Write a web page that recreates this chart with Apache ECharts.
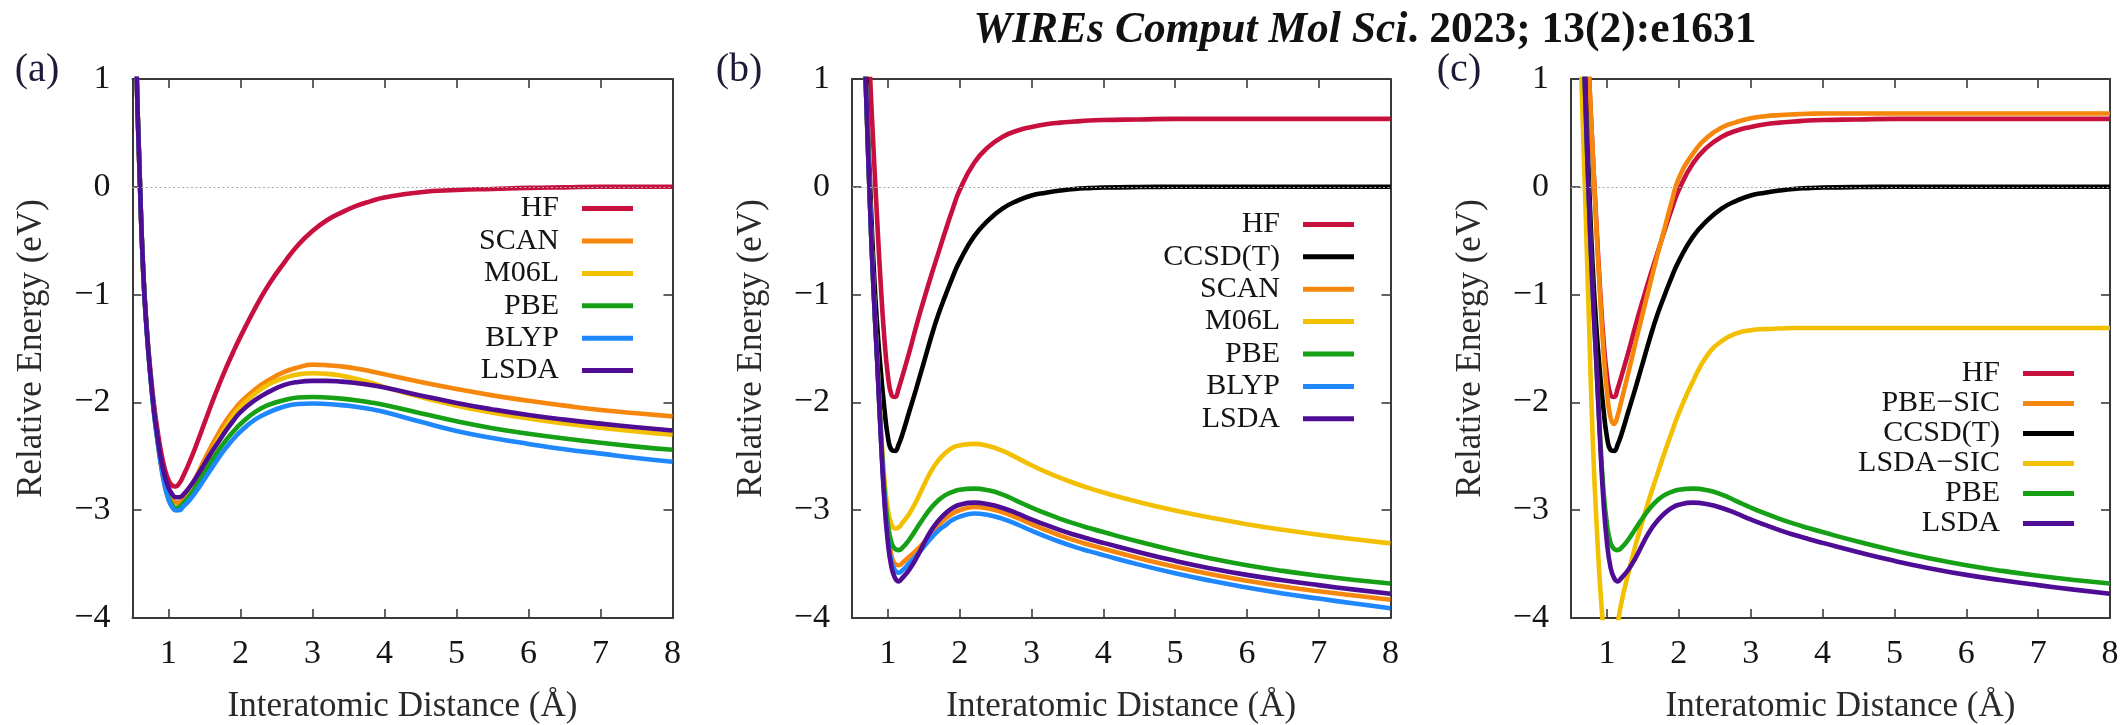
<!DOCTYPE html>
<html>
<head>
<meta charset="utf-8">
<title>Potential energy curves</title>
<script src="https://cdn.jsdelivr.net/npm/echarts/dist/echarts.min.js"></script>
<style>
  html, body { margin: 0; padding: 0; background: #ffffff; }
  #chart { width: 2123px; height: 725px; }
</style>
</head>
<body>
<div id="chart"></div>
<script>
// ---------------------------------------------------------------------------
// Data: relative energy (eV) versus interatomic distance (Å)
// ---------------------------------------------------------------------------
const DIST = [
  0.5, 0.55, 0.6, 0.65, 0.7, 0.75, 0.8, 0.85, 0.9, 0.95, 1.0, 1.05, 1.1, 1.15, 1.2,
  1.3, 1.4, 1.5, 1.6, 1.7, 1.8, 1.9, 2.0,
  2.2, 2.4, 2.6, 2.8, 3.0, 3.2, 3.4, 3.6, 3.8, 4.0,
  4.5, 5.0, 5.5, 6.0, 6.5, 7.0, 7.5, 8.0
];

// panel (a)
const HF_A = [
  3.0, 1.25, 0.1, -0.8, -1.33, -1.72, -2.03, -2.27, -2.47, -2.62, -2.72, -2.77, -2.78, -2.75, -2.69,
  -2.54, -2.37, -2.19, -2.01, -1.84, -1.68, -1.53, -1.39,
  -1.13, -0.90, -0.71, -0.54, -0.41, -0.31, -0.24, -0.18, -0.135, -0.10,
  -0.05, -0.03, -0.02, -0.01, -0.005, 0, 0, 0
];
const SCAN_A = [
  3.0, 1.25, 0.1, -0.8, -1.35, -1.75, -2.08, -2.34, -2.56, -2.73, -2.84, -2.9, -2.93, -2.93, -2.9,
  -2.8, -2.67, -2.53, -2.40, -2.28, -2.17, -2.08, -2.0,
  -1.88, -1.79, -1.72, -1.675, -1.65, -1.655, -1.667, -1.685, -1.71, -1.74,
  -1.81, -1.875, -1.935, -1.985, -2.03, -2.07, -2.10, -2.13
];
const M06L_A = [
  3.0, 1.25, 0.1, -0.8, -1.35, -1.76, -2.1, -2.37, -2.6, -2.78, -2.9, -2.97, -3.0, -2.99, -2.95,
  -2.85, -2.72, -2.58, -2.45, -2.33, -2.22, -2.12, -2.04,
  -1.92, -1.83, -1.775, -1.74, -1.73, -1.735, -1.752, -1.78, -1.815, -1.858,
  -1.95, -2.03, -2.095, -2.15, -2.195, -2.235, -2.27, -2.30
];
const PBE_A = [
  3.0, 1.25, 0.1, -0.8, -1.35, -1.76, -2.1, -2.36, -2.58, -2.76, -2.88, -2.95, -2.98, -2.97, -2.94,
  -2.86, -2.76, -2.65, -2.54, -2.44, -2.35, -2.27, -2.20,
  -2.09, -2.02, -1.98, -1.955, -1.95, -1.955, -1.965, -1.98, -2.0, -2.025,
  -2.10, -2.175, -2.24, -2.29, -2.335, -2.375, -2.41, -2.44
];
const BLYP_A = [
  3.0, 1.25, 0.1, -0.8, -1.36, -1.77, -2.11, -2.37, -2.6, -2.78, -2.9, -2.97, -3.0, -3.0, -2.97,
  -2.9, -2.81, -2.71, -2.61, -2.51, -2.42, -2.34, -2.27,
  -2.16, -2.09, -2.04, -2.015, -2.01, -2.015, -2.025, -2.04, -2.062, -2.09,
  -2.18, -2.265, -2.33, -2.385, -2.435, -2.475, -2.515, -2.55
];
const LSDA_A = [
  3.0, 1.25, 0.1, -0.8, -1.35, -1.75, -2.08, -2.33, -2.54, -2.69, -2.79, -2.85, -2.88, -2.88, -2.86,
  -2.78, -2.68, -2.57, -2.46, -2.36, -2.26, -2.17, -2.09,
  -1.98, -1.90, -1.84, -1.81, -1.80, -1.80, -1.807, -1.82, -1.838, -1.862,
  -1.935, -2.005, -2.065, -2.117, -2.16, -2.197, -2.23, -2.26
];

// panels (b) and (c)
const HF_BC = [
  9.0, 7.0, 5.0, 3.3, 1.9, 1.05, 0.35, -0.3, -0.9, -1.4, -1.75, -1.93, -1.95, -1.87, -1.76,
  -1.53, -1.28, -1.05, -0.83, -0.62, -0.41, -0.21, -0.03,
  0.22, 0.37, 0.465, 0.52, 0.555, 0.58, 0.595, 0.605, 0.615, 0.62,
  0.625, 0.63, 0.63, 0.63, 0.63, 0.63, 0.63, 0.63
];
const CCSDT_BC = [
  8.0, 6.0, 4.2, 2.6, 0.95, 0.05, -0.72, -1.28, -1.7, -2.05, -2.32, -2.44, -2.45, -2.39, -2.3,
  -2.08, -1.86, -1.63, -1.40, -1.19, -1.01, -0.84, -0.69,
  -0.46, -0.31, -0.2, -0.13, -0.08, -0.055, -0.035, -0.02, -0.012, -0.007,
  -0.002, 0, 0, 0, 0, 0, 0, 0
];
const SCAN_B = [
  6.0, 4.5, 3.0, 1.8, 0.8, -0.15, -0.95, -1.6, -2.28, -2.85, -3.22, -3.42, -3.50, -3.51, -3.49,
  -3.43, -3.37, -3.30, -3.22, -3.14, -3.08, -3.03, -3.0,
  -2.97, -2.985, -3.02, -3.072, -3.13, -3.185, -3.235, -3.28, -3.32, -3.357,
  -3.445, -3.525, -3.595, -3.655, -3.707, -3.752, -3.792, -3.83
];
const M06L_B = [
  6.0, 4.5, 3.0, 1.8, 0.8, -0.15, -0.95, -1.58, -2.2, -2.7, -3.0, -3.13, -3.17, -3.16, -3.12,
  -3.03, -2.91, -2.77, -2.64, -2.54, -2.47, -2.42, -2.40,
  -2.385, -2.405, -2.45, -2.515, -2.583, -2.645, -2.70, -2.75, -2.795, -2.836,
  -2.925, -3.003, -3.07, -3.13, -3.182, -3.228, -3.27, -3.308
];
const PBE_BC = [
  6.0, 4.5, 3.0, 1.8, 0.8, -0.15, -0.95, -1.6, -2.25, -2.8, -3.13, -3.3, -3.36, -3.37, -3.35,
  -3.27, -3.17, -3.07, -2.98, -2.91, -2.86, -2.83, -2.81,
  -2.80, -2.815, -2.855, -2.915, -2.975, -3.03, -3.08, -3.125, -3.165, -3.203,
  -3.293, -3.375, -3.447, -3.51, -3.563, -3.608, -3.647, -3.68
];
const BLYP_B = [
  6.0, 4.5, 3.0, 1.8, 0.8, -0.15, -0.95, -1.6, -2.29, -2.88, -3.27, -3.48, -3.56, -3.58, -3.56,
  -3.49, -3.42, -3.34, -3.26, -3.19, -3.14, -3.09, -3.06,
  -3.03, -3.045, -3.08, -3.132, -3.19, -3.245, -3.295, -3.34, -3.38, -3.417,
  -3.505, -3.585, -3.655, -3.717, -3.772, -3.82, -3.866, -3.91
];
const LSDA_BC = [
  6.0, 4.5, 3.0, 1.8, 0.8, -0.15, -0.95, -1.6, -2.3, -2.9, -3.3, -3.53, -3.63, -3.66, -3.63,
  -3.55, -3.44, -3.31, -3.19, -3.10, -3.03, -2.98, -2.95,
  -2.93, -2.945, -2.98, -3.03, -3.085, -3.137, -3.185, -3.228, -3.267, -3.303,
  -3.39, -3.47, -3.54, -3.60, -3.65, -3.695, -3.737, -3.775
];
const PBESIC_C = [
  9.0, 7.0, 5.0, 3.3, 1.9, 1.05, 0.35, -0.33, -0.95, -1.5, -1.9, -2.14, -2.2, -2.12, -1.99,
  -1.72, -1.44, -1.17, -0.9, -0.64, -0.39, -0.14, 0.08,
  0.31, 0.46, 0.55, 0.6, 0.635, 0.655, 0.665, 0.672, 0.677, 0.68,
  0.68, 0.68, 0.68, 0.68, 0.68, 0.68, 0.68, 0.68
];
const LSDASIC_C = [
  6.0, 4.0, 2.2, 0.9, -0.15, -1.25, -2.3, -3.05, -3.65, -4.1, -4.4, -4.45, -4.3, -4.06, -3.86,
  -3.58, -3.32, -3.09, -2.87, -2.67, -2.47, -2.28, -2.1,
  -1.8, -1.56, -1.43, -1.36, -1.33, -1.32, -1.315, -1.31, -1.31, -1.31,
  -1.31, -1.31, -1.31, -1.31, -1.31, -1.31, -1.31, -1.31
];

// axes and labels
const X_MIN = 0.5, X_MAX = 8;
const Y_MIN = -4, Y_MAX = 1, Y_STEP = 1;
const X_TICKS = [1, 2, 3, 4, 5, 6, 7, 8];
const X_TITLE = 'Interatomic Distance (Å)';
const Y_TITLE = 'Relative Energy (eV)';
const PANEL_TAGS = ['(a)', '(b)', '(c)'];
const HEADER_ITALIC = 'WIREs Comput Mol Sci';
const HEADER_PLAIN = '. 2023; 13(2):e1631';

const PANEL_SERIES = [
  [['HF', HF_A], ['SCAN', SCAN_A], ['M06L', M06L_A], ['PBE', PBE_A], ['BLYP', BLYP_A], ['LSDA', LSDA_A]],
  [['HF', HF_BC], ['CCSD(T)', CCSDT_BC], ['SCAN', SCAN_B], ['M06L', M06L_B], ['PBE', PBE_BC], ['BLYP', BLYP_B], ['LSDA', LSDA_BC]],
  [['HF', HF_BC], ['PBE\u2212SIC', PBESIC_C], ['CCSD(T)', CCSDT_BC], ['LSDA\u2212SIC', LSDASIC_C], ['PBE', PBE_BC], ['LSDA', LSDA_BC]]
];

// ---------------------------------------------------------------------------
// Styling and layout
// ---------------------------------------------------------------------------
const FONT = "'Liberation Serif', 'Times New Roman', Times, serif";
const INK = '#141414';
const FRAME = '#3a3a3a';
const LINE_COLOR = {
  'HF': '#c8103e',
  'SCAN': '#f5870c',
  'PBE\u2212SIC': '#f5870c',
  'M06L': '#f2c000',
  'LSDA\u2212SIC': '#f2c000',
  'PBE': '#16a016',
  'BLYP': '#1f88ff',
  'LSDA': '#4f0c94',
  'CCSD(T)': '#000000'
};

const GRID_BOX = [
  { left: 132.5, width: 540 },
  { left: 852, width: 538.5 },
  { left: 1571, width: 539 }
];
const GRID_TOP = 79, GRID_HEIGHT = 539;

const LEGEND_BOX = [
  { right: 1490, top: 192.4, lineHeight: 32.4 },
  { right: 769, top: 208.2, lineHeight: 32.4 },
  { right: 49, top: 358.6, lineHeight: 29.1 }
];
const TAG_POS = [[37, 70.5], [739, 70.5], [1459, 70.5]];

const minusFmt = v => (v < 0 ? '\u2212' + Math.abs(v) : String(v));

const grids = [], xAxes = [], yAxes = [], series = [], legends = [];

PANEL_SERIES.forEach((list, gi) => {
  grids.push({
    left: GRID_BOX[gi].left, width: GRID_BOX[gi].width,
    top: GRID_TOP, height: GRID_HEIGHT,
    containLabel: false, outerBoundsMode: 'none', show: false
  });

  const frameLine = { show: true, onZero: false, lineStyle: { color: FRAME, width: 2 } };
  const innerTick = { show: true, inside: true, length: 9, lineStyle: { color: FRAME, width: 1.6 } };

  const xCommon = {
    type: 'value', gridIndex: gi, min: X_MIN, max: X_MAX,
    splitNumber: 8, minInterval: 1, maxInterval: 1,
    axisLine: frameLine, axisTick: innerTick,
    splitLine: { show: false }, minorTick: { show: false }, silent: true
  };
  xAxes.push(Object.assign({}, xCommon, {
    position: 'bottom',
    axisLabel: {
      show: true, margin: 19, color: INK, fontFamily: FONT, fontSize: 34,
      formatter: v => (X_TICKS.includes(v) ? String(v) : '')
    },
    name: X_TITLE, nameLocation: 'middle', nameGap: 71, nameMoveOverlap: false,
    nameTextStyle: { color: '#2a2a2a', fontFamily: FONT, fontSize: 35 }
  }));
  xAxes.push(Object.assign({}, xCommon, { position: 'top', axisLabel: { show: false } }));

  const yCommon = {
    type: 'value', gridIndex: gi, min: Y_MIN, max: Y_MAX, interval: Y_STEP,
    axisLine: frameLine, axisTick: innerTick,
    splitLine: { show: false }, minorTick: { show: false }, silent: true
  };
  yAxes.push(Object.assign({}, yCommon, {
    position: 'left',
    axisLabel: { show: true, margin: 22, color: INK, fontFamily: FONT, fontSize: 34, formatter: minusFmt },
    name: Y_TITLE, nameLocation: 'middle', nameGap: 83, nameRotate: 90, nameMoveOverlap: false,
    nameTextStyle: { color: '#2a2a2a', fontFamily: FONT, fontSize: 35 }
  }));
  yAxes.push(Object.assign({}, yCommon, { position: 'right', axisLabel: { show: false } }));

  list.forEach(([name, values], si) => {
    const color = LINE_COLOR[name];
    const s = {
      type: 'line', name,
      xAxisIndex: gi * 2, yAxisIndex: gi * 2,
      data: DIST.map((d, i) => [d, values[i]]),
      showSymbol: false, symbol: 'none', smooth: 0.5, clip: true,
      lineStyle: { color, width: 4.6, join: 'round' },
      itemStyle: { color },
      emphasis: { disabled: true }, silent: true, animation: false
    };
    if (si === 0) {
      // dotted reference line at zero energy
      s.markLine = {
        silent: true, symbol: ['none', 'none'], animation: false,
        label: { show: false },
        lineStyle: { color: '#aaaaaa', width: 1.2, type: [2, 2.5] },
        emphasis: { disabled: true },
        data: [{ yAxis: 0 }]
      };
    }
    series.push(s);
  });

  const lb = LEGEND_BOX[gi];
  legends.push({
    data: list.map(p => p[0]),
    orient: 'vertical', align: 'right',
    right: lb.right, top: lb.top,
    itemWidth: 51, itemHeight: 5, itemGap: 0, padding: 0,
    icon: 'rect', selectedMode: false,
    itemStyle: { borderWidth: 0 },
    textStyle: {
      fontFamily: FONT, fontSize: 30, color: INK,
      lineHeight: lb.lineHeight, padding: [0, 18, 0, 0]
    }
  });
});

const graphics = PANEL_TAGS.map((tag, i) => ({
  type: 'text', x: TAG_POS[i][0], y: TAG_POS[i][1], silent: true,
  style: {
    text: tag, fill: '#1c1c38', fontFamily: FONT, fontSize: 40,
    align: 'center', verticalAlign: 'middle'
  }
}));
graphics.push({
  type: 'text', x: 1365, y: 31, silent: true,
  style: {
    text: '{i|' + HEADER_ITALIC + '}{b|' + HEADER_PLAIN + '}',
    align: 'center', verticalAlign: 'middle',
    rich: {
      i: { fontFamily: FONT, fontSize: 43.5, fontStyle: 'italic', fontWeight: 'bold', fill: '#111111' },
      b: { fontFamily: FONT, fontSize: 43.5, fontWeight: 'bold', fill: '#111111' }
    }
  }
});

const chart = echarts.init(document.getElementById('chart'), null, { renderer: 'canvas' });
chart.setOption({
  backgroundColor: '#ffffff',
  animation: false,
  textStyle: { fontFamily: FONT },
  grid: grids,
  xAxis: xAxes,
  yAxis: yAxes,
  legend: legends,
  graphic: graphics,
  series: series
});
</script>
</body>
</html>
